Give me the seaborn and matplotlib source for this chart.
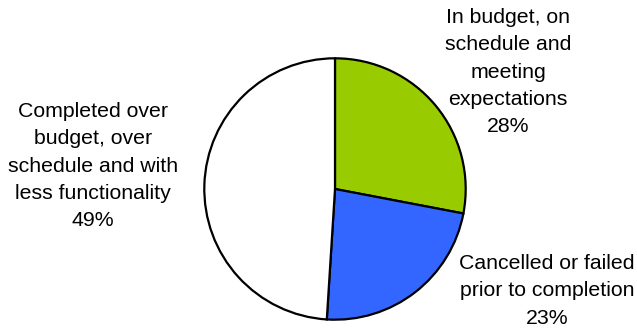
import matplotlib.pyplot as plt
import seaborn as sns

categories = [
    'In budget, on\nschedule and\nmeeting\nexpectations',
    'Cancelled or failed\nprior to completion',
    'Completed over\nbudget, over\nschedule and with\nless functionality',
]
shares = [28, 23, 49]
colors = ['#99CC00', '#3366FF', '#FFFFFF']

# label centres in pixels (x, y from top)
label_pos = [(508, 72), (547, 291), (93, 166)]


def main():
    sns.set_theme(style='white')
    plt.rcParams['font.family'] = ['Liberation Sans', 'DejaVu Sans']

    W, H = 637, 330
    fig = plt.figure(figsize=(W / 100, H / 100), dpi=100)
    fig.patch.set_facecolor('white')

    cx, cy, r = 335, 189, 132
    ax = fig.add_axes([(cx - r) / W, (H - cy - r) / H, 2 * r / W, 2 * r / H])

    ax.pie(
        shares,
        colors=colors,
        startangle=90,
        counterclock=False,
        radius=1,
        wedgeprops=dict(edgecolor='black', linewidth=1.6),
    )
    ax.set_xlim(-1.01, 1.01)
    ax.set_ylim(-1.01, 1.01)
    ax.set_aspect('equal')
    ax.axis('off')

    for name, val, (x, y) in zip(categories, shares, label_pos):
        fig.text(x / W, 1 - y / H, f'{name}\n{val}%',
                 ha='center', va='center', multialignment='center',
                 fontsize=15.3, linespacing=1.55, color='black')

    plt.savefig('out.png', dpi=100)


if __name__ == '__main__':
    main()
